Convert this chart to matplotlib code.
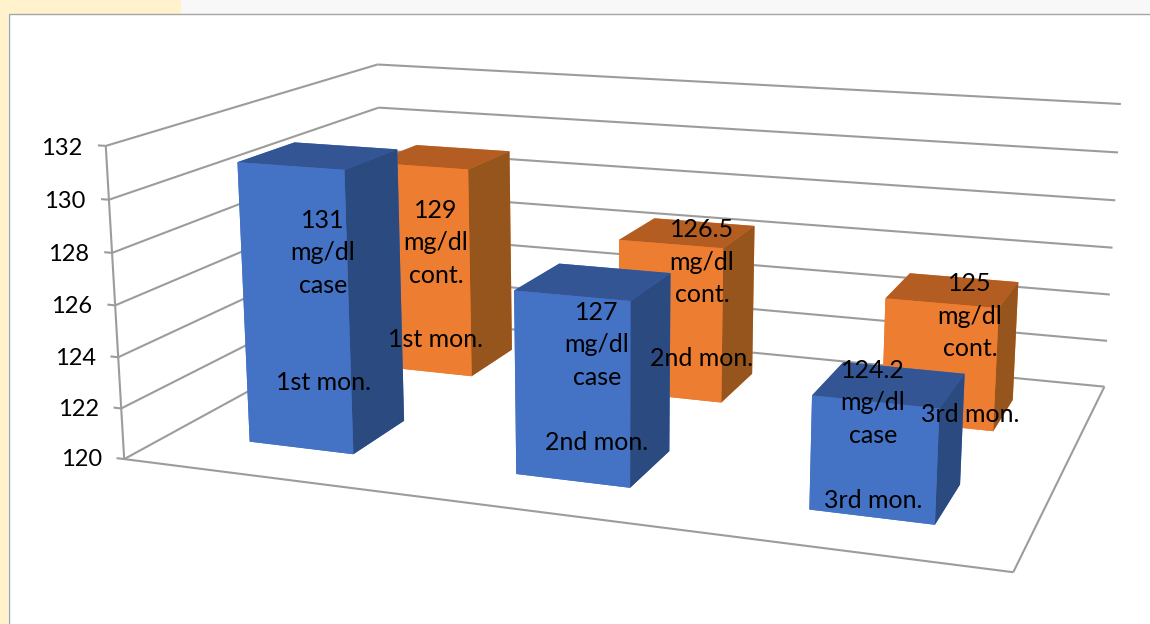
import numpy as np
import matplotlib
matplotlib.use("Agg")
import matplotlib.pyplot as plt
from matplotlib.patches import Rectangle
from mpl_toolkits.mplot3d.art3d import Line3DCollection

months = ["1st mon.", "2nd mon.", "3rd mon."]
case_values = [131, 127, 124.2]
cont_values = [129, 126.5, 125]
ticks = [120, 122, 124, 126, 128, 130, 132]

W, H = 1150, 624

# footprint of the bars on the floor (x runs over the months, y over the two series)
xa, xb = .305, .705
y1a, y1b, y2a, y2b = .156, .356, .656, .856

# camera of the chart, works on (x, y, z - 120)
P0 = np.array([[249.39, 357.17, -1.85601, 124.196],
               [-40.1089, 219.633, 24.6542, 164.916],
               [-0.0463459, 0.252334, -0.00301932, 1]])
T = np.eye(4)
T[2, 3] = -120
P = P0 @ T
M = np.array([P[0], P[1], [0, 0, 0, -1.0], P[2]])

fig = plt.figure(figsize=(W / 100, H / 100), dpi=100)

# slide background behind the chart
for x0, y0, w, h, c in [(0, 0, 8, H, "#fff2cc"), (0, 0, 181, 14, "#fff2cc"), (181, 0, W, 14, "#f8f8f8")]:
    fig.add_artist(Rectangle((x0 / W, 1 - (y0 + h) / H), w / W, h / H, transform=fig.transFigure,
                             fc=c, ec="none", zorder=-2))
fig.add_artist(plt.Line2D([8.5 / W, 8.5 / W, 1], [0, 1 - 13.5 / H, 1 - 13.5 / H], color="#a6a6a6", lw=1, zorder=-1))

ax = fig.add_axes([0, (H - W) / 2 / H, 1, W / H], projection="3d", computed_zorder=False)
ax.get_proj = lambda: M
ax.viewLim.intervalx = (0, W)
ax.viewLim.intervaly = ((H - W) / 2, (H + W) / 2)
ax.set_axis_off()
ax.patch.set_visible(False)


def project(x, y, z):
    q = P @ np.array([x, y, z, 1.0])
    return q[0] / q[2], q[1] / q[2]


segs = []
for t in ticks:
    segs += [[(0, 0, t), (0, 1, t)], [(0, 1, t), (3, 1, t)], [(-0.03, 0, t), (0, 0, t)]]
    u, v = project(-0.1, 0, t)
    fig.text((u + 3) / W, (v - 4) / H, str(t), ha="right", va="center", fontsize=17, family="Lato", zorder=10)
segs += [[(0, 0, 120), (0, 0, 132)], [(0, 0, 120), (3, 0, 120)], [(3, 0, 120), (3, 1, 120)]]
ax.add_collection3d(Line3DCollection(segs, colors="#9c9c9c", linewidths=1.5, zorder=1))

blue = ["#4472c4", "#335593", "#4472c4", "#4472c4", "#4472c4", "#2b4a80"]
orange = ["#ed7d31", "#b45d23", "#ed7d31", "#ed7d31", "#ed7d31", "#96551c"]

for i in range(3):
    ax.bar3d(i + xa, y2a, 120, xb - xa, y2b - y2a, cont_values[i] - 120, color=orange, shade=False,
             edgecolor="none", zorder=3 + 2 * (3 - i))
    ax.bar3d(i + xa, y1a, 120, xb - xa, y1b - y1a, case_values[i] - 120, color=blue, shade=False,
             edgecolor="none", zorder=4 + 2 * (3 - i))

# label anchors in pixels: x, middle of the value block, month line
case_pos = [(323, 253, 382), (597, 345, 442), (873, 403, 500)]
cont_pos = [(436, 243, 340), (702, 262, 359), (970, 316, 414)]


def px(x, y):
    return x / W, 1 - y / H


for i in range(3):
    for val, word, (x, y1, y2) in [(case_values[i], "case", case_pos[i]), (cont_values[i], "cont.", cont_pos[i])]:
        fig.text(*px(x, y1), f"{val}\nmg/dl\n{word}", ha="center", va="center", ma="center",
                 fontsize=18, family="Lato", linespacing=1.49, zorder=10)
        fig.text(*px(x, y2), months[i], ha="center", va="center", fontsize=18, family="Lato", zorder=10)

fig.savefig("out.png", dpi=100)
